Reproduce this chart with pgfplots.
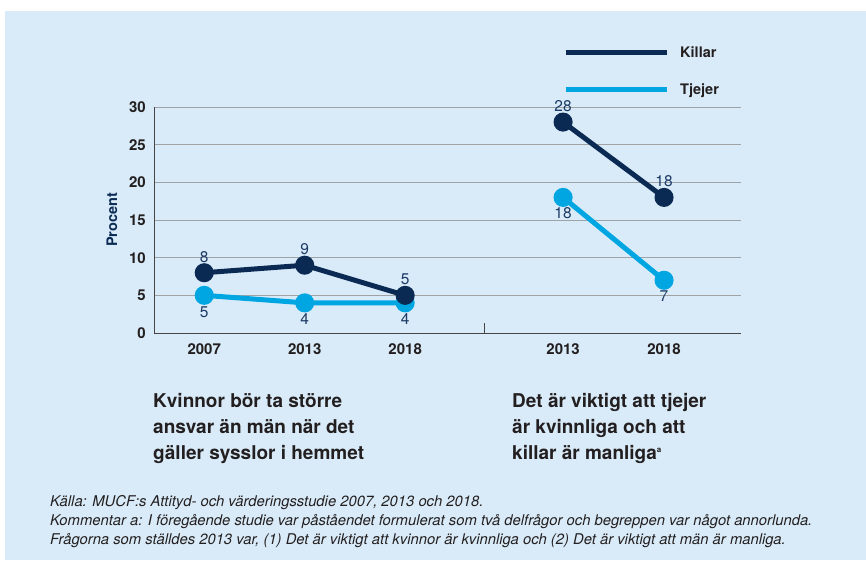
\documentclass[border=0pt]{standalone}
\usepackage{pgfplots}
\pgfplotsset{compat=1.18}
\usepackage{fontspec}
\setmainfont{TeX Gyre Heros}
\pgfplotsset{/pgf/number format/assume math mode=true}
\definecolor{bgblue}{RGB}{217,235,248}
\definecolor{navy}{RGB}{10,42,84}
\definecolor{sky}{RGB}{0,166,226}
\definecolor{lbl}{RGB}{28,58,102}
\definecolor{gridc}{RGB}{160,163,166}
\definecolor{txt}{RGB}{35,31,32}
\definecolor{axc}{RGB}{70,70,72}
\begin{document}
\begin{tikzpicture}
\fill[white] (0pt,0pt) rectangle (866pt,-568pt);
\fill[bgblue] (5pt,-11pt) rectangle (866pt,-560pt);
\begin{axis}[
 at={(154pt,-333pt)}, anchor=south west,
 scale only axis, width=587pt, height=226pt,
 xmin=-0.5, xmax=5.343, ymin=0, ymax=30,
 axis x line=bottom, axis y line=left,
 axis line style={-, draw=axc, line width=1pt},
 ytick={0,5,...,30}, ymajorgrids, major grid style={draw=gridc, line width=1pt},
 xtick={0,1,2,3.572,4.577}, xticklabels={2007,2013,2018,2013,2018},
 major tick length=0pt,
 extra x ticks={2.786}, extra x tick labels={},
 extra x tick style={major tick length=10pt, tick align=inside, tick style={draw=axc, line width=1pt}, grid=none},
 tick label style={font=\bfseries\fontsize{15}{18}\selectfont, text=txt, inner sep=0pt},
 yticklabel style={xshift=-8pt},
 xticklabel style={yshift=-10pt},
 ylabel={Procent},
 every axis y label/.style={at={(axis description cs:-0.0716,0.5)}, rotate=90, anchor=center,
   font=\bfseries\fontsize{14.5}{17}\selectfont, text=navy},
 legend cell align=left,
 legend image code/.code={\draw (0pt,0.3pt) -- (101pt,0.3pt);},
 legend style={draw=none, fill=none, inner sep=0pt, column sep=11pt, row sep=25pt,
   font=\bfseries\fontsize{14.5}{17}\selectfont, text=txt,
   at={(axis description cs:0.6968,1.2695)}, anchor=north west, nodes={inner sep=0pt}},
 clip=false,
]
\addlegendimage{navy, line width=5pt}
\addlegendentry{Killar}
\addlegendimage{sky, line width=5pt}
\addlegendentry{Tjejer}
% Tjejer left
\addplot[sky, line width=5pt, mark=*, mark size=7pt, mark options={draw=none, fill=sky},
  nodes near coords, every node near coord/.append style={text=lbl, font=\fontsize{15.5}{18}\selectfont, inner sep=0pt, anchor=base, yshift=-22pt}, forget plot]
  coordinates {(0,5) (1,4) (2,4)};
% Killar left
\addplot[navy, line width=5pt, mark=*, mark size=7pt, mark options={draw=none, fill=navy},
  nodes near coords, every node near coord/.append style={text=lbl, font=\fontsize{15.5}{18}\selectfont, inner sep=0pt, anchor=base, yshift=10.5pt}, forget plot]
  coordinates {(0,8) (1,9) (2,5)};
% Tjejer right
\addplot[sky, line width=5pt, mark=*, mark size=7pt, mark options={draw=none, fill=sky},
  nodes near coords, every node near coord/.append style={text=lbl, font=\fontsize{15.5}{18}\selectfont, inner sep=0pt, anchor=base, yshift=-21.5pt}, forget plot]
  coordinates {(3.572,18) (4.577,7)};
% Killar right
\addplot[navy, line width=5pt, mark=*, mark size=7pt, mark options={draw=none, fill=navy},
  nodes near coords, every node near coord/.append style={text=lbl, font=\fontsize{15.5}{18}\selectfont, inner sep=0pt, anchor=base, yshift=10.5pt}, forget plot]
  coordinates {(3.572,28) (4.577,18)};
\end{axis}
\begin{scope}[every node/.style={anchor=base west, inner sep=0pt, text=txt}]
\node[font=\bfseries\fontsize{19}{24}\selectfont] at (153pt,-407pt) {Kvinnor bör ta större};
\node[font=\bfseries\fontsize{19}{24}\selectfont] at (153pt,-433pt) {ansvar än män när det};
\node[font=\bfseries\fontsize{19}{24}\selectfont] at (153pt,-459pt) {gäller sysslor i hemmet};
\node[font=\bfseries\fontsize{19}{24}\selectfont] at (512pt,-407pt) {Det är viktigt att tjejer};
\node[font=\bfseries\fontsize{19}{24}\selectfont] at (512pt,-433pt) {är kvinnliga och att};
\node[font=\bfseries\fontsize{19}{24}\selectfont] at (512pt,-459pt) {killar är manliga\raisebox{7pt}{\fontsize{8}{8}\selectfont a}};
\node[font=\itshape\fontsize{14.8}{16}\selectfont] at (50pt,-506pt) {Källa: MUCF:s Attityd- och värderingsstudie 2007, 2013 och 2018.};
\node[font=\itshape\fontsize{14.8}{16}\selectfont] at (50pt,-525pt) {Kommentar a: I föregående studie var påståendet formulerat som två delfrågor och begreppen var något annorlunda.};
\node[font=\itshape\fontsize{14.8}{16}\selectfont] at (50pt,-544pt) {Frågorna som ställdes 2013 var, (1) Det är viktigt att kvinnor är kvinnliga och (2) Det är viktigt att män är manliga.};
\end{scope}
\end{tikzpicture}
\end{document}
